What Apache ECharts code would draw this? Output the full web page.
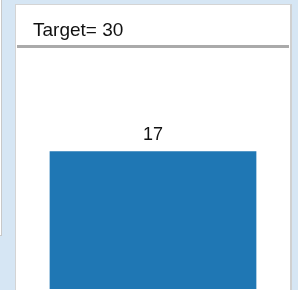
<!DOCTYPE html>
<html><head><meta charset="utf-8">
<script src="https://cdn.jsdelivr.net/npm/echarts@6/dist/echarts.min.js"></script>
<style>
html,body{margin:0;padding:0;width:298px;height:290px;overflow:hidden;background:#d6e6f4;}
#strip{position:absolute;left:0;top:0;width:1px;height:235px;background:#fff;border-right:1px solid #c8c8c8;border-bottom:1px solid #c8c8c8;}
#panel{position:absolute;left:15px;top:4px;width:274px;height:285px;background:#fff;border:1px solid #d4d4d4;border-right:2px solid #d0d0d0;border-bottom:2px solid #d0d0d0;}
#chart{position:absolute;left:17px;top:6px;width:272px;height:283px;}
</style></head>
<body>
<div id="strip"></div>
<div id="panel"></div>
<div id="chart"></div>
<script>
const categories = ['A'];
const values = [17];
const target = 30;
const titleText = 'Target= ' + target;

const chart = echarts.init(document.getElementById('chart'), null, {renderer:'canvas'});
chart.setOption({
  animation:false,
  title:{text:titleText,left:16,top:15,padding:0,textStyle:{fontFamily:'Liberation Sans, Arial',fontSize:19,fontWeight:'normal',color:'#111'}},
  grid:{left:0,right:0,top:40,bottom:0,containLabel:false},
  xAxis:{type:'category',data:categories,show:false},
  yAxis:{type:'value',min:0,max:target,show:false,splitLine:{show:false}},
  series:[{
    type:'bar',data:values,barWidth:'76%',
    itemStyle:{color:'#1f77b4'},
    label:{show:true,position:'top',distance:7,fontFamily:'Liberation Sans, Arial',fontSize:18,color:'#111'},
    markLine:{symbol:'none',silent:true,label:{show:false},lineStyle:{color:'#aaaaaa',width:3,type:'solid'},data:[{yAxis:target}]}
  }]
});
</script>
</body></html>
